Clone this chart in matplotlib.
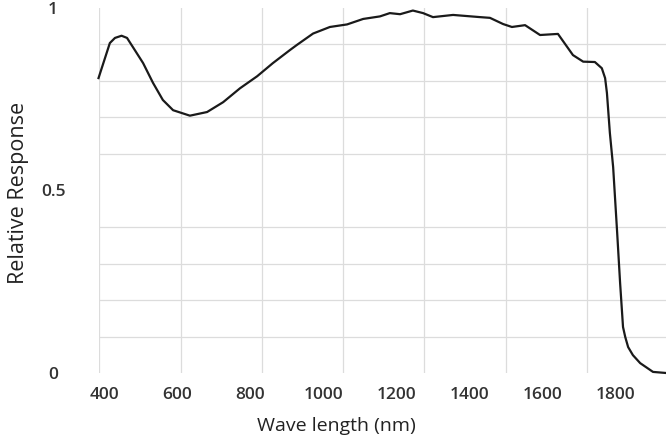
import numpy as np
import matplotlib.pyplot as plt
from matplotlib.ticker import FixedLocator

# spectral response
wavelength = [385, 416, 430, 448, 463, 479, 507, 534, 561, 589, 635, 682, 726,
              772, 819, 862, 909, 928, 972, 1018, 1065, 1109, 1155, 1182, 1210,
              1245, 1273, 1300, 1355, 1429, 1456, 1492, 1516, 1552, 1593, 1642,
              1683, 1711, 1743, 1762, 1771, 1776, 1784, 1793, 1804, 1812, 1820,
              1826, 1834, 1847, 1867, 1886, 1902, 1938]
response = [0.808, 0.904, 0.918, 0.924, 0.918, 0.893, 0.849, 0.795, 0.748,
            0.720, 0.705, 0.715, 0.742, 0.780, 0.813, 0.849, 0.885, 0.899,
            0.930, 0.948, 0.955, 0.970, 0.977, 0.986, 0.983, 0.993, 0.986,
            0.975, 0.981, 0.975, 0.973, 0.956, 0.948, 0.953, 0.926, 0.929,
            0.871, 0.853, 0.852, 0.835, 0.808, 0.767, 0.658, 0.564, 0.384,
            0.247, 0.126, 0.099, 0.071, 0.049, 0.027, 0.014, 0.003, 0.0]

xtick_vals = [400, 600, 800, 1000, 1200, 1400, 1600, 1800]
xtick_labels = ["400", "600", "800", "1000", "1200", "1400", "1600", "1800"]
ytick_vals = [0, 0.5, 1]
ytick_labels = ["0", "0.5", "1"]
# grid in the source is not aligned with the labels
xgrid = [386.3, 609.9, 831.5, 1053, 1275.5, 1500, 1720.7]
ygrid = [0.1, 0.2, 0.3, 0.4, 0.5, 0.6, 0.7, 0.8, 0.9, 1.0]

plt.rcParams['font.family'] = ['Open Sans', 'DejaVu Sans']

fig = plt.figure(figsize=(6.66, 4.44), dpi=100)
ax = fig.add_axes([99/666, 71/444, 567/666, 365/444])

ax.plot(wavelength, response, color='#1a1a1a', lw=1.6, clip_on=False,
        solid_joinstyle='round')

ax.set_xlim(386.3, 1937.6)
ax.set_ylim(0, 1)

ax.xaxis.set_minor_locator(FixedLocator(xgrid))
ax.yaxis.set_minor_locator(FixedLocator(ygrid))
ax.grid(which='minor', color='#dcdcdc', lw=0.9)
ax.set_axisbelow(True)

ax.set_xticks(xtick_vals)
ax.set_xticklabels(xtick_labels, fontsize=12.5, color='#333333', fontweight='semibold')
ax.set_yticks(ytick_vals)
ax.set_yticklabels(ytick_labels, fontsize=12.5, color='#333333', fontweight='semibold')
for lab in ax.get_yticklabels():
    lab.set_horizontalalignment('center')
ax.tick_params(which='both', length=0)
ax.tick_params(axis='x', pad=10)
ax.tick_params(axis='y', pad=33)

for s in ax.spines.values():
    s.set_visible(False)

ax.set_xlabel("Wave length (nm)", fontsize=14, color='#222222')
ax.set_ylabel("Relative Response", fontsize=15.5, color='#222222')
ax.yaxis.set_label_coords(-(99 - 29) / 567, (373 - 193) / 365)
ax.xaxis.set_label_coords((336 - 99) / 567, -(417 - 373) / 365)

fig.savefig("out.png", dpi=100)
